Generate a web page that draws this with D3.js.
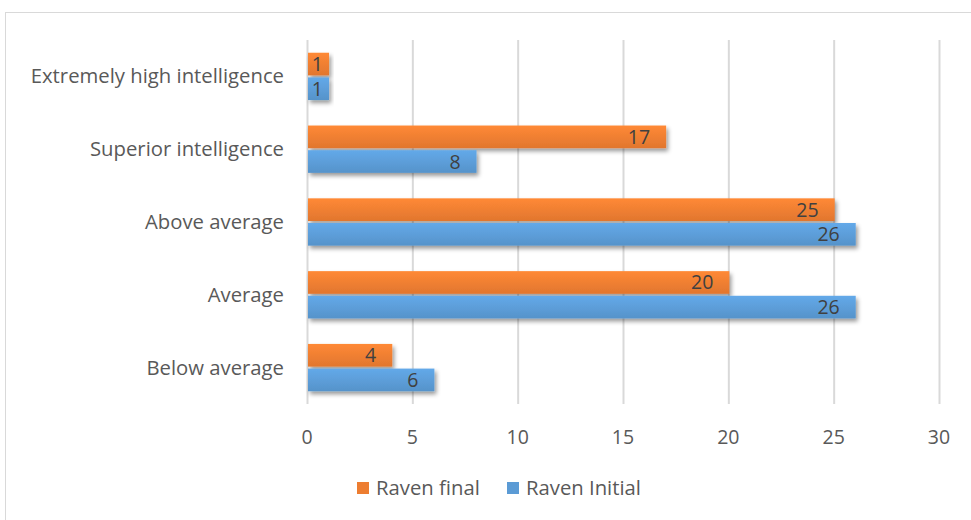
<!DOCTYPE html>
<html>
<head>
<meta charset="utf-8">
<script src="https://cdn.jsdelivr.net/npm/d3@7"></script>
<style>
  body { margin: 0; background: #fff; }
  text { font-family: "Open Sans", "Noto Sans", sans-serif; }
</style>
</head>
<body>
<div id="chart"></div>
<script>
// chart data
const categories = ["Extremely high intelligence", "Superior intelligence", "Above average", "Average", "Below average"];
const ravenFinal = [1, 17, 25, 20, 4];
const ravenInitial = [1, 8, 26, 26, 6];
const xTicks = [0, 5, 10, 15, 20, 25, 30];
const seriesNames = ["Raven final", "Raven Initial"];
const seriesColors = ["#ED7D31", "#5B9BD5"];

const width = 971;
const height = 520;

const svg = d3.select("#chart").append("svg")
  .attr("width", width)
  .attr("height", height);

// outer frame
svg.append("rect")
  .attr("x", 5.5).attr("y", 12.5)
  .attr("width", 1000).attr("height", 600)
  .attr("fill", "none")
  .attr("stroke", "#d9d9d9");

const defs = svg.append("defs");

// gradients for the bars
seriesColors.forEach(function (c, i) {
  const g = defs.append("linearGradient")
    .attr("id", "grad" + i)
    .attr("x1", 0).attr("y1", 0).attr("x2", 0).attr("y2", 1);
  g.append("stop").attr("offset", "0%").attr("stop-color", d3.color(c).brighter(0.25));
  g.append("stop").attr("offset", "100%").attr("stop-color", d3.color(c).darker(0.15));
});

// drop shadow
const f = defs.append("filter").attr("id", "shadow")
  .attr("x", "-10%").attr("y", "-30%").attr("width", "130%").attr("height", "180%");
f.append("feDropShadow")
  .attr("dx", 2).attr("dy", 3).attr("stdDeviation", 2)
  .attr("flood-color", "#000").attr("flood-opacity", 0.4);

const x = d3.scaleLinear().domain([0, 30]).range([307, 939]);
const y = d3.scaleBand().domain(categories).range([40, 404]).paddingInner(0.35).paddingOuter(0.175);
const ySub = d3.scaleBand().domain([0, 1]).range([0, y.bandwidth()]).paddingInner(0.08);

// gridlines
svg.append("g")
  .selectAll("line")
  .data(xTicks)
  .join("line")
  .attr("x1", d => x(d) + 0.5).attr("x2", d => x(d) + 0.5)
  .attr("y1", 40).attr("y2", 404)
  .attr("stroke", "#d9d9d9")
  .attr("stroke-width", 2);

// tick labels
svg.append("g")
  .selectAll("text")
  .data(xTicks)
  .join("text")
  .attr("x", d => x(d))
  .attr("y", 444)
  .attr("text-anchor", "middle")
  .attr("font-size", 19.5)
  .attr("fill", "#595959")
  .text(d => d);

// category labels
svg.append("g")
  .selectAll("text")
  .data(categories)
  .join("text")
  .attr("x", 284)
  .attr("y", d => y(d) + y.bandwidth() / 2 + 7)
  .attr("text-anchor", "end")
  .attr("font-size", 20.3)
  .attr("fill", "#595959")
  .text(d => d);

const series = [ravenFinal, ravenInitial];

series.forEach(function (vals, si) {
  const g = svg.append("g");
  g.selectAll("rect")
    .data(vals)
    .join("rect")
    .attr("x", x(0) + 1)
    .attr("y", (d, i) => y(categories[i]) + ySub(si))
    .attr("width", d => x(d) - x(0))
    .attr("height", ySub.bandwidth())
    .attr("fill", "url(#grad" + si + ")")
    .attr("filter", "url(#shadow)");

  g.selectAll("text")
    .data(vals)
    .join("text")
    .attr("x", d => Math.max(x(d) - 15, x(0) + 16))
    .attr("y", (d, i) => y(categories[i]) + ySub(si) + ySub.bandwidth() / 2 + 7)
    .attr("text-anchor", "end")
    .attr("font-size", 19.5)
    .attr("fill", "#404040")
    .text(d => d);
});

// legend
const legendX = [357, 507];
seriesNames.forEach(function (name, i) {
  svg.append("rect")
    .attr("x", legendX[i]).attr("y", 482)
    .attr("width", 12).attr("height", 12)
    .attr("fill", seriesColors[i]);
  svg.append("text")
    .attr("x", legendX[i] + 19).attr("y", 495)
    .attr("font-size", 20.3)
    .attr("fill", "#595959")
    .text(name);
});
</script>
</body>
</html>
